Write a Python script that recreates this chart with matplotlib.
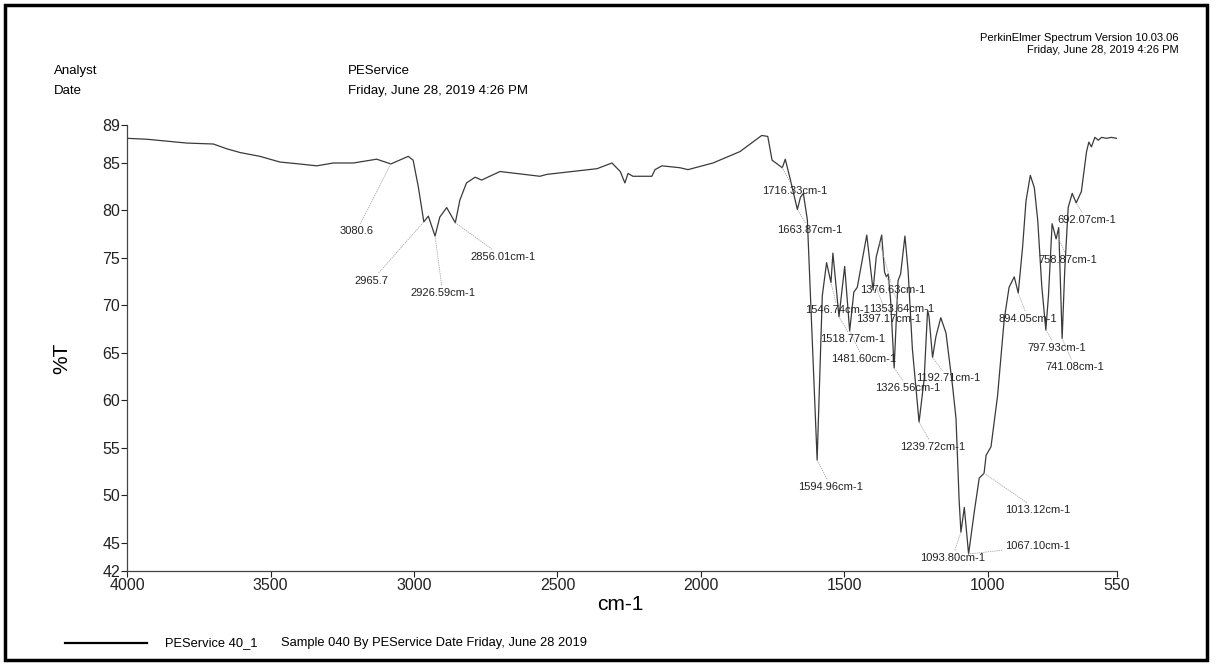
import numpy as np
import matplotlib.pyplot as plt
from matplotlib.patches import Rectangle
from matplotlib.lines import Line2D

plt.rcParams['font.family'] = ['Liberation Sans', 'DejaVu Sans']

# widmo IR (cm-1, %T)
wavenumber = [4000, 3930, 3862, 3792, 3699, 3653, 3606, 3537, 3467, 3400, 3339, 3281, 3211, 3130,
              3080.6, 3020, 3003, 2985, 2965.7, 2950, 2926.59, 2910, 2886, 2856.01,
              2840, 2817, 2787, 2764, 2729, 2700, 2561, 2537, 2362, 2310, 2281, 2265,
              2254, 2237, 2171, 2160, 2136, 2073, 2045, 1958, 1864, 1788, 1767, 1752,
              1716.33, 1706, 1688, 1663.87, 1653, 1643, 1629, 1594.96, 1577, 1562,
              1546.74, 1540, 1518.77, 1499, 1481.60, 1467, 1455, 1422, 1400, 1389,
              1370, 1360, 1353.64, 1347, 1339, 1326.56, 1313, 1304, 1289, 1278, 1263,
              1239.72, 1222, 1210, 1205, 1192.71, 1181, 1164, 1146, 1123, 1111, 1100,
              1093.80, 1082, 1067.10, 1047, 1030, 1013.12, 1006, 989, 966, 943, 926,
              908, 894.05, 879, 867, 852, 838, 826, 812, 797.93, 789, 776, 762, 753,
              741.08, 732, 720, 706, 692.07, 674, 656, 648, 639, 627, 615, 604, 587,
              569, 552]
transmittance = [87.6, 87.5, 87.3, 87.1, 87.0, 86.5, 86.1, 85.7, 85.1, 84.9, 84.7, 85.0, 85.0, 85.4,
                 84.9, 85.7, 85.3, 82.5, 78.8, 79.4, 77.3, 79.3, 80.3, 78.7,
                 81.1, 82.9, 83.5, 83.2, 83.7, 84.1, 83.6, 83.8, 84.4, 85.0, 84.1, 82.9,
                 83.9, 83.6, 83.6, 84.3, 84.7, 84.5, 84.3, 85.0, 86.2, 87.9, 87.8, 85.3,
                 84.5, 85.4, 83.2, 80.1, 81.4, 81.8, 79.0, 53.7, 71.0, 74.5,
                 72.4, 75.5, 68.8, 74.1, 67.3, 71.4, 71.9, 77.4, 71.6, 75.1,
                 77.4, 73.5, 73.0, 73.3, 70.6, 63.4, 72.6, 73.3, 77.3, 73.7, 65.4,
                 57.7, 62.2, 69.5, 68.8, 64.5, 66.7, 68.7, 67.1, 61.5, 58.1, 49.4,
                 46.1, 48.7, 43.8, 48.3, 51.8, 52.3, 54.2, 55.1, 60.5, 68.5, 71.9,
                 73.0, 71.3, 76.1, 81.0, 83.7, 82.4, 78.9, 72.0, 67.4, 70.9, 78.6, 77.0, 78.2,
                 66.5, 73.7, 80.3, 81.8, 80.8, 82.0, 86.2, 87.2, 86.7, 87.7, 87.4, 87.7, 87.6,
                 87.7, 87.6]

# opisane piki
peaks = [3080.6, 2965.7, 2926.59, 2856.01, 1716.33, 1663.87, 1594.96, 1546.74,
         1376.63, 1353.64, 1397.17, 1518.77, 1481.60, 1192.71, 1326.56, 1239.72,
         1013.12, 1067.10, 1093.80, 894.05, 797.93, 741.08, 758.87, 692.07]
peak_texts = ["3080.6", "2965.7", "2926.59cm-1", "2856.01cm-1", "1716.33cm-1",
              "1663.87cm-1", "1594.96cm-1", "1546.74cm-1", "1376.63cm-1", "1353.64cm-1",
              "1397.17cm-1", "1518.77cm-1", "1481.60cm-1", "1192.71cm-1", "1326.56cm-1",
              "1239.72cm-1", "1013.12cm-1", "1067.10cm-1", "1093.80cm-1", "894.05cm-1",
              "797.93cm-1", "741.08cm-1", "758.87cm-1", "692.07cm-1"]
# polozenie opisow (srodek tekstu)
text_pos = [(3200, 77.8), (3147, 72.6), (2900, 71.3), (2691, 75.1), (1672, 82.0),
            (1620, 77.9), (1547, 50.9), (1523, 69.5), (1330, 71.6), (1301, 69.6),
            (1347, 68.6), (1472, 66.4), (1434, 64.3), (1138, 62.3), (1278, 61.3),
            (1191, 55.1), (825, 48.4), (828, 44.6), (1124, 43.4), (860, 68.6),
            (761, 65.5), (697, 63.5), (720, 74.8), (656, 79.0)]

fig = plt.figure(figsize=(12.17, 6.64), dpi=100)
ax = fig.add_axes([0.1044, 0.140, 0.8134, 0.6717])

ax.plot(wavenumber, transmittance, color="#3a3a3a", lw=0.9)

wr = np.array(wavenumber)[::-1]
tr = np.array(transmittance)[::-1]
for p, t, pos in zip(peaks, peak_texts, text_pos):
    ax.annotate(t, xy=(p, np.interp(p, wr, tr)), xytext=pos, ha="center", va="center",
                fontsize=8, color="#222222",
                arrowprops=dict(arrowstyle="-", color="#aaaaaa", lw=0.6, ls=":",
                                shrinkA=0, shrinkB=0))

ax.set_xlim(4000, 550)
ax.set_ylim(42, 89)
ax.set_xticks([4000, 3500, 3000, 2500, 2000, 1500, 1000, 550])
ax.set_yticks([42, 45, 50, 55, 60, 65, 70, 75, 80, 85, 89])
ax.tick_params(labelsize=11.5, length=4, width=0.8, pad=1, colors="#222222")
for s in ["top", "right"]:
    ax.spines[s].set_visible(False)
for s in ["left", "bottom"]:
    ax.spines[s].set_color("#444444")
    ax.spines[s].set_linewidth(0.9)

fig.text(620/1217, 1-604/664, "cm-1", fontsize=15, ha="center", va="center")
fig.text(62/1217, 1-358/664, "%T", fontsize=15, ha="center", va="center", rotation=90)

# naglowek
fig.text(54/1217, 1-71/664, "Analyst", fontsize=9.5, va="center")
fig.text(54/1217, 1-91/664, "Date", fontsize=9.5, va="center")
fig.text(348/1217, 1-71/664, "PEService", fontsize=9.5, va="center")
fig.text(348/1217, 1-91/664, "Friday, June 28, 2019 4:26 PM", fontsize=9.5, va="center")
fig.text(1179/1217, 1-38/664, "PerkinElmer Spectrum Version 10.03.06", fontsize=8,
         ha="right", va="center")
fig.text(1179/1217, 1-50/664, "Friday, June 28, 2019 4:26 PM", fontsize=8,
         ha="right", va="center")

# legenda
fig.add_artist(Line2D([65/1217, 147/1217], [1-643/664, 1-643/664], color="black", lw=1.6))
fig.text(165/1217, 1-643/664, "PEService 40_1", fontsize=9.3, va="center")
fig.text(281/1217, 1-643/664, "Sample 040 By PEService Date Friday, June 28 2019",
         fontsize=9.3, va="center")

# ramka
fig.add_artist(Rectangle((0.004, 0.006), 0.988, 0.987, transform=fig.transFigure,
                         fill=False, lw=2.5, edgecolor="black"))

fig.savefig("out.png", dpi=100)
